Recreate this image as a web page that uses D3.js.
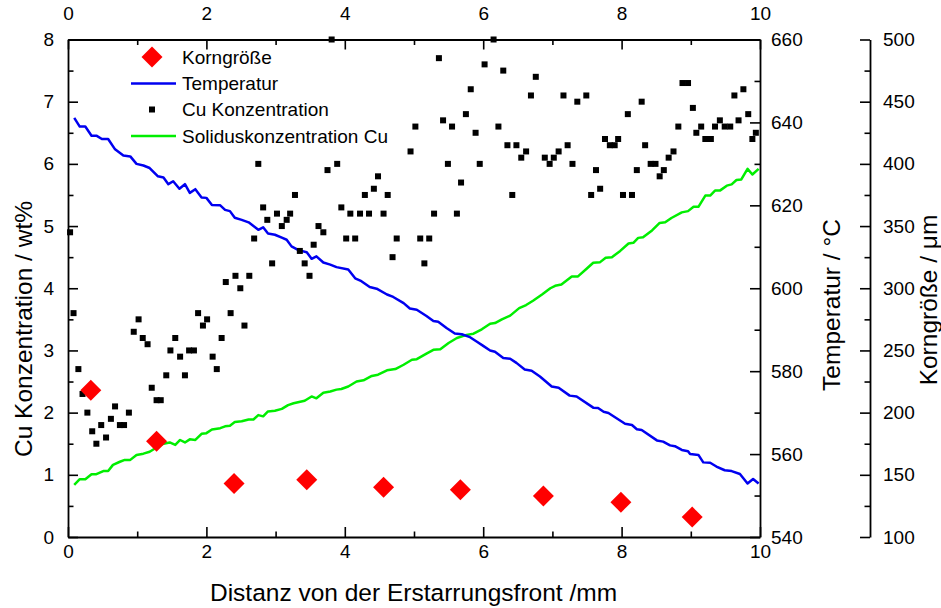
<!DOCTYPE html>
<html><head><meta charset="utf-8">
<script src="https://cdn.jsdelivr.net/npm/d3@7"></script>
<style>body{margin:0;background:#fff} text{font-family:"Liberation Sans",Arial,sans-serif}</style>
</head><body><svg id="c" width="941" height="608"></svg>
<script>
// ---- data ----
const cuX = [0.03,0.08,0.15,0.21,0.28,0.35,0.41,0.48,0.55,0.62,0.68,0.75,0.81,0.88,0.95,1.02,1.08,1.15,1.21,1.28,1.34,1.42,1.48,1.55,1.62,1.69,1.75,1.82,1.88,1.95,2.01,2.09,2.15,2.22,2.28,2.35,2.42,2.49,2.55,2.62,2.69,2.75,2.82,2.88,2.95,3.02,3.09,3.16,3.21,3.28,3.35,3.42,3.49,3.55,3.62,3.69,3.75,3.81,3.89,3.95,4.02,4.08,4.15,4.22,4.29,4.35,4.42,4.48,4.56,4.62,4.69,4.75,4.95,5.02,5.09,5.15,5.22,5.29,5.36,5.42,5.49,5.55,5.62,5.68,5.75,5.82,5.89,5.95,6.02,6.15,6.22,6.29,6.35,6.42,6.48,6.55,6.62,6.69,6.76,6.89,6.96,7.02,7.09,7.16,7.22,7.29,7.36,7.49,7.56,7.63,7.69,7.76,7.83,7.90,7.95,8.02,8.09,8.15,8.22,8.29,8.34,8.42,8.49,8.55,8.61,8.68,8.75,8.82,8.88,8.96,9.03,9.08,9.15,9.21,9.29,9.35,9.42,9.49,9.57,9.63,9.69,9.76,9.83,9.89,9.94];
const cuWt = [4.9,3.6,2.7,2.3,2.0,1.7,1.5,1.8,1.6,1.9,2.1,1.8,1.8,2.0,3.3,3.5,3.2,3.1,2.4,2.2,2.2,2.6,3.0,3.2,2.9,2.6,3.0,3.0,3.6,3.4,3.5,2.9,2.7,3.2,4.1,3.6,4.2,4.0,3.4,4.2,4.8,6.0,5.3,5.1,4.4,5.2,5.0,5.1,5.2,5.5,4.6,4.4,4.2,4.7,5.0,4.9,5.9,8.0,6.0,5.3,4.8,5.2,4.8,5.2,5.5,5.2,5.6,5.8,5.2,5.5,4.5,4.8,6.2,6.6,4.8,4.4,4.8,5.2,7.7,6.7,6.0,6.6,5.2,5.7,6.8,7.2,6.5,6.0,7.6,8.0,6.6,7.5,6.3,5.5,6.3,6.1,6.2,7.1,7.4,6.1,6.0,6.1,6.2,7.1,6.3,6.0,7.0,7.1,5.5,5.9,5.6,6.4,6.3,6.3,6.4,5.5,6.8,5.5,5.9,7.0,6.3,6.0,6.0,5.8,5.9,6.1,6.2,6.6,7.3,7.3,6.9,6.5,6.6,6.4,6.4,6.6,6.7,6.6,6.6,7.1,6.7,7.2,6.8,6.4,6.5];

const tempX = [0.09,0.17,0.25,0.34,0.41,0.49,0.58,0.68,0.80,0.90,0.99,1.09,1.18,1.30,1.38,1.45,1.52,1.61,1.69,1.76,1.84,1.93,2.00,2.08,2.20,2.27,2.34,2.41,2.51,2.61,2.68,2.75,2.82,2.89,2.99,3.09,3.16,3.23,3.33,3.45,3.52,3.59,3.69,3.79,3.88,4.05,4.15,4.24,4.36,4.46,4.61,4.70,4.85,4.94,5.04,5.18,5.28,5.35,5.47,5.59,5.69,5.81,5.91,6.00,6.10,6.17,6.29,6.39,6.48,6.60,6.70,6.82,6.99,7.09,7.25,7.35,7.59,7.66,7.74,7.81,8.05,8.15,8.22,8.29,8.51,8.60,8.70,8.77,8.87,8.96,8.99,9.11,9.18,9.28,9.37,9.49,9.59,9.71,9.82,9.90,9.98];
const tempC = [641.1,639.0,639.0,636.8,636.8,636.0,636.0,633.5,632.0,631.8,630.0,629.6,629.0,627.0,626.7,625.1,625.8,624.0,625.1,623.0,623.9,621.9,621.8,620.1,620.0,618.9,618.6,617.0,616.5,615.9,615.0,614.1,614.7,613.2,612.9,612.2,611.7,610.1,609.2,608.7,607.1,607.7,606.2,605.7,605.1,604.5,602.4,601.7,600.3,599.9,598.5,597.9,596.4,595.1,594.8,593.3,592.1,591.9,590.4,589.1,588.9,588.2,587.1,586.1,585.0,584.7,583.2,583.0,582.0,580.4,580.1,578.7,576.3,576.0,574.1,573.9,571.2,571.1,570.2,569.9,567.3,567.0,566.0,565.8,563.3,563.0,562.1,561.9,561.0,560.7,560.0,559.8,558.0,557.9,557.0,556.1,555.9,555.2,552.9,554.0,552.9];

const solX = [0.09,0.17,0.25,0.34,0.41,0.51,0.58,0.65,0.75,0.82,0.90,0.99,1.09,1.18,1.28,1.38,1.47,1.55,1.62,1.69,1.76,1.84,1.93,2.00,2.08,2.20,2.27,2.34,2.41,2.51,2.61,2.68,2.75,2.82,2.89,2.99,3.09,3.18,3.26,3.34,3.42,3.52,3.59,3.69,3.79,3.88,3.95,4.05,4.17,4.27,4.39,4.48,4.61,4.73,4.85,4.97,5.04,5.18,5.28,5.38,5.50,5.62,5.76,5.86,5.98,6.10,6.17,6.27,6.39,6.52,6.62,6.72,6.85,6.97,7.04,7.13,7.28,7.37,7.49,7.59,7.69,7.77,7.86,7.98,8.10,8.17,8.24,8.31,8.44,8.55,8.63,8.72,8.87,8.96,9.04,9.11,9.21,9.28,9.35,9.42,9.52,9.59,9.66,9.73,9.82,9.89,9.98];
const solCu = [0.84,0.93,0.93,1.01,1.01,1.06,1.06,1.16,1.21,1.24,1.24,1.32,1.34,1.37,1.44,1.50,1.52,1.48,1.56,1.52,1.57,1.56,1.66,1.67,1.73,1.75,1.78,1.79,1.85,1.86,1.89,1.89,1.96,1.94,2.02,2.03,2.06,2.12,2.15,2.17,2.19,2.26,2.23,2.32,2.34,2.37,2.38,2.42,2.50,2.52,2.59,2.61,2.68,2.70,2.77,2.85,2.86,2.95,3.01,3.02,3.12,3.20,3.25,3.27,3.34,3.43,3.44,3.50,3.56,3.68,3.73,3.80,3.90,4.00,4.04,4.06,4.19,4.19,4.31,4.41,4.42,4.49,4.50,4.60,4.72,4.73,4.81,4.82,4.93,5.05,5.06,5.13,5.22,5.24,5.31,5.31,5.49,5.49,5.57,5.57,5.65,5.67,5.74,5.75,5.92,5.83,5.92];

const kornX = [0.33,1.28,2.40,3.45,4.56,5.67,6.87,7.99,9.02];
const kornUm = [218,177,143,146,140,138,133,128,116];

const xMajor = [0,2,4,6,8,10], xMinor = [1,3,5,7,9];
const cuMajor = [0,1,2,3,4,5,6,7,8], cuMinor = [0.5,1.5,2.5,3.5,4.5,5.5,6.5,7.5];
const tMajor = [540,560,580,600,620,640,660], tMinor = [550,570,590,610,630,650];
const kMajor = [100,150,200,250,300,350,400,450,500], kMinor = [125,175,225,275,325,375,425,475];

const legendLabels = ["Korngröße","Temperatur","Cu Konzentration","Soliduskonzentration Cu"];

// ---- layout ----
const L = 68, R = 760, T = 39.5, B = 537, KX = 870;
const svg = d3.select("#c");
const x = d3.scaleLinear().domain([0,10]).range([L,R]);
const yCu = d3.scaleLinear().domain([0,8]).range([B,T]);
const yT = d3.scaleLinear().domain([540,660]).range([B,T]);
const yK = d3.scaleLinear().domain([100,500]).range([B,T]);
const FS = 19;

function drawAxis(gen, tx, ty, major, minor, pad){
  const g = svg.append("g").attr("transform",`translate(${tx},${ty})`);
  g.call(gen.tickValues(major).tickSizeInner(-10).tickSizeOuter(0).tickPadding(pad).tickFormat(d3.format("d")));
  const g2 = svg.append("g").attr("transform",`translate(${tx},${ty})`);
  g2.call(gen.tickValues(minor).tickSizeInner(-5.5).tickSizeOuter(0).tickFormat(""));
  g2.select(".domain").remove();
  [g,g2].forEach(gg=>{
    gg.selectAll(".domain").attr("stroke","#000").attr("stroke-width",1.8);
    gg.selectAll(".tick line").attr("stroke","#000").attr("stroke-width",1.6);
    gg.selectAll("text").attr("font-size",FS).attr("fill","#000").attr("font-family","Liberation Sans, Arial, sans-serif");
  });
  return g;
}
drawAxis(d3.axisBottom(x), 0, B, xMajor, xMinor, 8);
drawAxis(d3.axisTop(x), 0, T, xMajor, xMinor, 20);
drawAxis(d3.axisLeft(yCu), L, 0, cuMajor, cuMinor, 14);
drawAxis(d3.axisRight(yT), R, 0, tMajor, tMinor, 11);
drawAxis(d3.axisRight(yK), KX, 0, kMajor, kMinor, 13);

// ---- series ----
const plot = svg.append("g");
plot.append("path").datum(d3.range(solX.length))
  .attr("fill","none").attr("stroke","#00ee00").attr("stroke-width",2.5).attr("stroke-linejoin","round")
  .attr("d", d3.line().x(i=>x(solX[i])).y(i=>yCu(solCu[i])));
plot.append("path").datum(d3.range(tempX.length))
  .attr("fill","none").attr("stroke","#0000f0").attr("stroke-width",2.5).attr("stroke-linejoin","round")
  .attr("d", d3.line().x(i=>x(tempX[i])).y(i=>yT(tempC[i])));
plot.selectAll("rect.cu").data(d3.range(cuX.length)).join("rect").attr("class","cu")
  .attr("x",i=>x(cuX[i])-3).attr("y",i=>yCu(cuWt[i])-3).attr("width",6).attr("height",6).attr("fill","#000");
plot.selectAll("path.korn").data(d3.range(kornX.length)).join("path").attr("class","korn")
  .attr("transform",i=>`translate(${x(kornX[i])},${yK(kornUm[i])}) rotate(45)`)
  .attr("d", d3.symbol().type(d3.symbolSquare).size(220)).attr("fill","#ff0000");

// ---- legend ----
const lg = svg.append("g");
const ly = [57, 83.5, 109.5, 136];
lg.append("path").attr("transform",`translate(152,${ly[0]}) rotate(45)`).attr("d", d3.symbol().type(d3.symbolSquare).size(220)).attr("fill","#ff0000");
lg.append("line").attr("x1",131).attr("x2",176).attr("y1",ly[1]).attr("y2",ly[1]).attr("stroke","#0000f0").attr("stroke-width",2.5);
lg.append("rect").attr("x",149).attr("y",ly[2]-3).attr("width",6).attr("height",6).attr("fill","#000");
lg.append("line").attr("x1",131).attr("x2",176).attr("y1",ly[3]).attr("y2",ly[3]).attr("stroke","#00ee00").attr("stroke-width",2.5);
legendLabels.forEach((t,i)=>{
  lg.append("text").attr("x",182).attr("y",ly[i]).attr("dy","0.36em").attr("font-size",19).text(t);
});

// ---- titles ----
svg.append("text").attr("transform","translate(32,329) rotate(-90)").attr("text-anchor","middle").attr("font-size",24.5).text("Cu Konzentration / wt%");
svg.append("text").attr("x",413.5).attr("y",600.5).attr("text-anchor","middle").attr("font-size",24.5).text("Distanz von der Erstarrungsfront /mm");
svg.append("text").attr("transform","translate(840,305) rotate(-90)").attr("text-anchor","middle").attr("font-size",24.5).text("Temperatur / °C");
svg.append("text").attr("transform","translate(937,300) rotate(-90)").attr("text-anchor","middle").attr("font-size",24.5).text("Korngröße / μm");
</script></body></html>
